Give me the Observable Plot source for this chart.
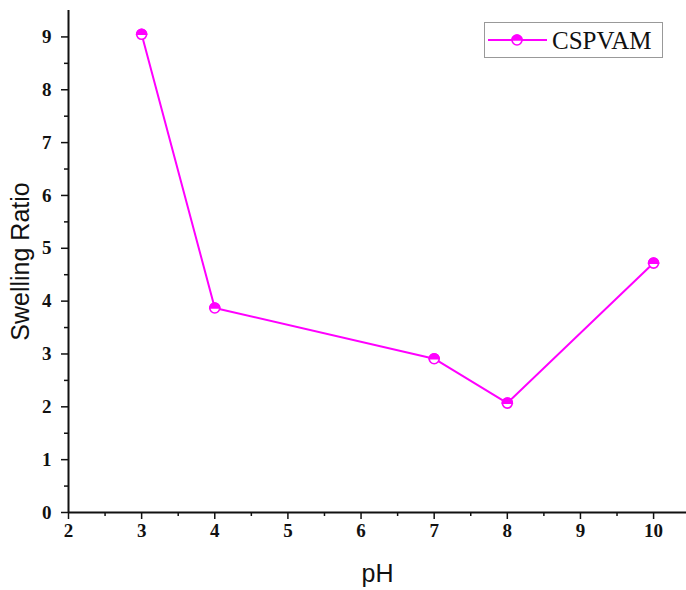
<!DOCTYPE html>
<html><head><meta charset="utf-8">
<script src="https://cdn.jsdelivr.net/npm/d3@7"></script>
<script src="https://cdn.jsdelivr.net/npm/@observablehq/plot@0.6"></script>
<style>
body{margin:0;background:#fff;}
#wrap{position:relative;width:686px;height:590px;}
#legend{position:absolute;left:484px;top:22px;width:179px;height:36px;border:1px solid #999;background:#fff;box-sizing:border-box;}
</style>
</head><body>
<div id="wrap"><div id="legend"></div></div>
<script>
const pH = [3, 4, 7, 8, 10];
const swelling = [9.05, 3.87, 2.91, 2.07, 4.72];
const seriesName = "CSPVAM";
const xMajor = [2, 3, 4, 5, 6, 7, 8, 9, 10];
const xMinor = [2.5, 3.5, 4.5, 5.5, 6.5, 7.5, 8.5, 9.5];
const yMajor = [0, 1, 2, 3, 4, 5, 6, 7, 8, 9];
const yMinor = [0.5, 1.5, 2.5, 3.5, 4.5, 5.5, 6.5, 7.5, 8.5];

const data = pH.map((x, i) => ({x, y: swelling[i]}));
const color = "#ff00ff";
const topHalf = {
  draw(ctx, size) {
    const r = Math.sqrt(size / Math.PI);
    ctx.moveTo(r, 0);
    ctx.arc(0, 0, r, 0, Math.PI, true);
    ctx.closePath();
  }
};
const tickFont = {fontFamily: "Liberation Serif", fontWeight: "bold", fontSize: 19, fill: "#111"};

const chart = Plot.plot({
  width: 686, height: 590,
  marginLeft: 68, marginRight: 0, marginTop: 10, marginBottom: 78,
  style: {background: "#fff", overflow: "visible"},
  x: {domain: [2, 10.45]},
  y: {domain: [0, 9.5]},
  marks: [
    Plot.axisX({ticks: xMajor, tickSize: 7, tickFormat: () => "", label: null, stroke: "#111", strokeWidth: 1.5}),
    Plot.axisX({ticks: xMinor, tickSize: 4, tickFormat: () => "", label: null, stroke: "#111", strokeWidth: 1.5}),
    Plot.axisY({ticks: yMajor, tickSize: 7, tickFormat: () => "", label: null, stroke: "#111", strokeWidth: 1.5}),
    Plot.axisY({ticks: yMinor, tickSize: 4, tickFormat: () => "", label: null, stroke: "#111", strokeWidth: 1.5}),
    Plot.text(xMajor, {x: d => d, frameAnchor: "bottom", dy: 24, text: d => String(d), ...tickFont}),
    Plot.text(yMajor, {y: d => d, frameAnchor: "left", dx: -17, textAnchor: "end", text: d => String(d), ...tickFont}),
    Plot.ruleY([0], {stroke: "#111", strokeWidth: 2}),
    Plot.ruleX([2], {stroke: "#111", strokeWidth: 2}),
    Plot.text(["pH"], {frameAnchor: "bottom", dy: 69, textAnchor: "middle", fontFamily: "Liberation Sans", fontSize: 25, fill: "#111"}),
    Plot.text(["Swelling Ratio"], {frameAnchor: "left", dx: -48, textAnchor: "middle", rotate: -90, fontFamily: "Liberation Sans", fontSize: 25, fill: "#111"}),
    Plot.line(data, {x: "x", y: "y", stroke: color, strokeWidth: 2}),
    Plot.dot(data, {x: "x", y: "y", r: 5, fill: "#fff", stroke: color, strokeWidth: 1.6}),
    Plot.dot(data, {x: "x", y: "y", r: 5, symbol: topHalf, fill: color, stroke: color, strokeWidth: 1.6})
  ]
});
document.getElementById("wrap").prepend(chart);

// legend
const lg = d3.select("#legend").append("svg").attr("width", 177).attr("height", 34);
lg.append("line").attr("x1", 3).attr("x2", 62).attr("y1", 17).attr("y2", 17).attr("stroke", color).attr("stroke-width", 2);
lg.append("circle").attr("cx", 32).attr("cy", 17).attr("r", 5).attr("fill", "#fff").attr("stroke", color).attr("stroke-width", 1.6);
lg.append("path").attr("d", d3.arc()({innerRadius: 0, outerRadius: 5, startAngle: -Math.PI/2, endAngle: Math.PI/2}))
  .attr("transform", "translate(32,17)").attr("fill", color).attr("stroke", color).attr("stroke-width", 1.6);
lg.append("text").attr("x", 67).attr("y", 26).attr("font-family", "Liberation Serif").attr("font-size", 25).attr("fill", "#111").text(seriesName);
</script>
</body></html>
